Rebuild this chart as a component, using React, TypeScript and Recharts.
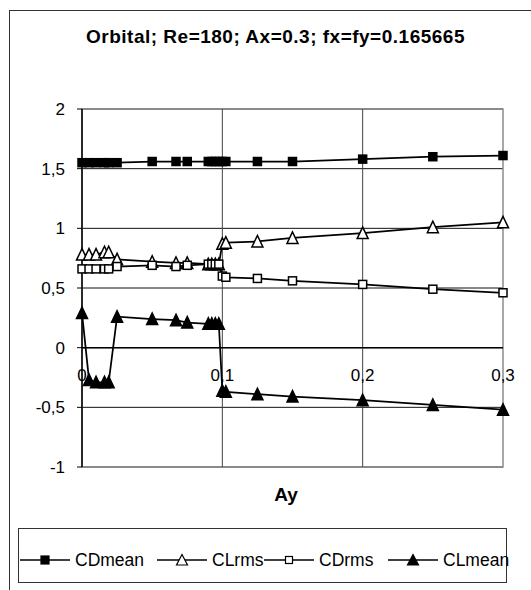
import React from "react";
import {
  LineChart,
  Line,
  XAxis,
  YAxis,
  CartesianGrid,
  ReferenceLine,
  ReferenceArea,
  ReferenceDot,
} from "recharts";

const FONT = "'Liberation Sans', Arial, sans-serif";

// Ay values (shared by all four series)
const ay = [
  0, 0.005, 0.01, 0.016, 0.019, 0.025, 0.05, 0.067, 0.075, 0.09, 0.0925, 0.095,
  0.0975, 0.1, 0.1025, 0.125, 0.15, 0.2, 0.25, 0.3,
];
const cdMean = [
  1.55, 1.55, 1.55, 1.55, 1.55, 1.55, 1.56, 1.56, 1.56, 1.56, 1.56, 1.56, 1.56,
  1.56, 1.56, 1.56, 1.56, 1.58, 1.6, 1.61,
];
const clRms = [
  0.78, 0.78, 0.78, 0.8, 0.8, 0.74, 0.72, 0.71, 0.71, 0.7, 0.7, 0.7, 0.7, 0.87,
  0.88, 0.89, 0.92, 0.96, 1.01, 1.05,
];
const cdRms = [
  0.66, 0.66, 0.66, 0.66, 0.66, 0.68, 0.69, 0.68, 0.69, 0.7, 0.7, 0.7, 0.7, 0.6,
  0.59, 0.58, 0.56, 0.53, 0.49, 0.46,
];
const clMean = [
  0.29, -0.27, -0.29, -0.29, -0.29, 0.26, 0.24, 0.23, 0.21, 0.2, 0.2, 0.2, 0.2,
  -0.36, -0.37, -0.39, -0.41, -0.44, -0.48, -0.52,
];

const xTicks = [0, 0.1, 0.2, 0.3];
const yTicks = [-1, -0.5, 0, 0.5, 1, 1.5, 2];

const data = ay.map((x, i) => ({
  ay: x,
  CDmean: cdMean[i],
  CLrms: clRms[i],
  CDrms: cdRms[i],
  CLmean: clMean[i],
}));

const comma = (v: number) => String(v).replace(".", ",");

// marker shapes
const square = (filled: boolean, s: number) => (p: any) => {
  if (p.cx == null || p.cy == null) return <g key={p.key} />;
  return (
    <rect
      key={p.key}
      x={p.cx - s / 2}
      y={p.cy - s / 2}
      width={s}
      height={s}
      fill={filled ? "#000" : "#fff"}
      stroke="#000"
      strokeWidth={1.5}
    />
  );
};

const triangle = (filled: boolean, w: number) => (p: any) => {
  if (p.cx == null || p.cy == null) return <g key={p.key} />;
  const h = w;
  return (
    <polygon
      key={p.key}
      points={`${p.cx},${p.cy - h / 2 - 0.5} ${p.cx - w / 2},${p.cy + h / 2} ${p.cx + w / 2},${p.cy + h / 2}`}
      fill={filled ? "#000" : "#fff"}
      stroke="#000"
      strokeWidth={1.5}
      strokeLinejoin="miter"
    />
  );
};

const series = [
  { key: "CDmean", dot: square(true, 8), left: 20, icon: "sq", filled: true },
  { key: "CLrms", dot: triangle(false, 11), left: 157, icon: "tri", filled: false },
  { key: "CDrms", dot: square(false, 8), left: 264, icon: "sq", filled: false },
  { key: "CLmean", dot: triangle(true, 11), left: 388, icon: "tri", filled: true },
];

function LegendIcon({ icon, filled }: { icon: string; filled: boolean }) {
  return (
    <svg width={50} height={14} style={{ display: "block" }}>
      <line x1={0} y1={7} x2={50} y2={7} stroke="#000" strokeWidth={1.5} />
      {icon === "sq" ? (
        <rect
          x={filled ? 21 : 21.5}
          y={filled ? 3 : 3.5}
          width={filled ? 8 : 7}
          height={filled ? 8 : 7}
          fill={filled ? "#000" : "#fff"}
          stroke="#000"
          strokeWidth={1.2}
        />
      ) : (
        <polygon
          points="25,1.5 19.5,12 30.5,12"
          fill={filled ? "#000" : "#fff"}
          stroke="#000"
          strokeWidth={1.2}
        />
      )}
    </svg>
  );
}

export default function App() {
  return (
    <div
      style={{
        position: "absolute",
        left: 0,
        top: 0,
        width: 531,
        height: 590,
        overflow: "hidden",
        background: "#fff",
        fontFamily: FONT,
      }}
    >
      <div
        style={{
          position: "absolute",
          left: 9,
          top: 10,
          width: 540,
          height: 600,
          borderLeft: "1.5px solid #333",
          borderTop: "1.5px solid #333",
        }}
      />
      <div
        style={{
          position: "absolute",
          left: 0,
          width: 551,
          top: 25,
          textAlign: "center",
          fontSize: 19,
          fontWeight: "bold",
          letterSpacing: 0.5,
          whiteSpace: "nowrap",
          lineHeight: "24px",
        }}
      >
        Orbital; Re=180; Ax=0.3; fx=fy=0.165665
      </div>

      <div style={{ position: "absolute", left: 0, top: 0 }}>
        <LineChart
          width={531}
          height={590}
          data={data}
          margin={{ top: 109, right: 28, left: 0, bottom: 123 }}
        >
          <CartesianGrid stroke="#111" strokeWidth={1} vertical={false} />
          <XAxis
            type="number"
            dataKey="ay"
            domain={[0, 0.3]}
            ticks={xTicks}
            tick={false}
            axisLine={false}
            tickLine={false}
            height={0}
          />
          <YAxis
            type="number"
            domain={[-1, 2]}
            ticks={yTicks}
            width={82}
            tickFormatter={comma}
            tick={{ fontSize: 17, fill: "#000", fontFamily: FONT }}
            axisLine={{ stroke: "#000", strokeWidth: 1.5 }}
            tickLine={{ stroke: "#000", strokeWidth: 1 }}
            tickSize={5}
            tickMargin={12}
          />
          {xTicks.slice(1, -1).map((t) => (
            <ReferenceLine key={`g${t}`} x={t} stroke="#444" strokeWidth={1} />
          ))}
          <ReferenceArea
            x1={0}
            x2={0.3}
            y1={-1}
            y2={2}
            fill="none"
            fillOpacity={0}
            stroke="#8c8c8c"
            strokeWidth={1.5}
          />
          <ReferenceLine y={0} stroke="#000" strokeWidth={1.5} />
          {xTicks.map((t) => (
            <ReferenceDot
              key={t}
              x={t}
              y={0}
              r={0}
              fill="none"
              stroke="none"
              label={{
                value: comma(t),
                position: "bottom",
                offset: 21,
                fill: "#000",
                fontSize: 17,
                fontFamily: FONT,
              }}
            />
          ))}
          {series.map((s) => (
            <Line
              key={s.key}
              dataKey={s.key}
              stroke="#000"
              strokeWidth={1.75}
              dot={s.dot}
              isAnimationActive={false}
            />
          ))}
        </LineChart>
      </div>

      <div
        style={{
          position: "absolute",
          left: 0,
          width: 572,
          top: 483,
          textAlign: "center",
          fontSize: 19,
          fontWeight: "bold",
          lineHeight: "24px",
        }}
      >
        Ay
      </div>

      <div
        style={{
          position: "absolute",
          left: 18,
          top: 528,
          width: 489,
          height: 55,
          border: "1.5px solid #333",
          boxSizing: "border-box",
        }}
      />
      {series.map((s) => (
        <div
          key={s.key}
          style={{
            position: "absolute",
            left: s.left,
            top: 549,
            height: 22,
            display: "flex",
            alignItems: "center",
            fontSize: 17.5,
            whiteSpace: "nowrap",
          }}
        >
          <LegendIcon icon={s.icon} filled={s.filled} />
          <span style={{ marginLeft: 5 }}>{s.key}</span>
        </div>
      ))}
    </div>
  );
}
